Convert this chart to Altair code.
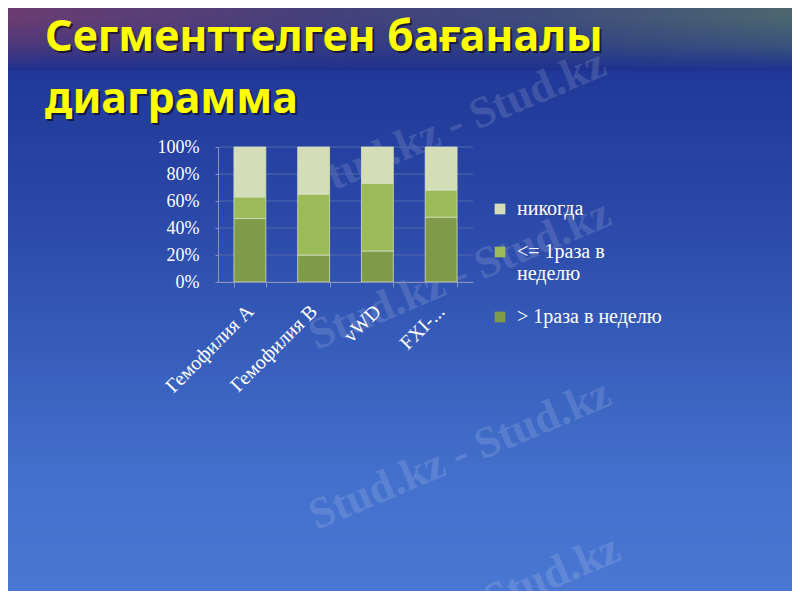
import altair as alt
import pandas as pd

# ---- data ----
categories = ["Гемофилия A", "Гемофилия B", "vWD", "FXI-..."]
series_names = ["никогда", "<= 1раза в неделю", "> 1раза в неделю"]
more_than_once = [47, 20, 23, 48]
once_or_less = [16, 45, 50, 20]
never = [37, 35, 27, 32]
y_ticks = [0, 0.2, 0.4, 0.6, 0.8, 1.0]
title_lines = ["Сегменттелген бағаналы", "диаграмма"]
watermarks = ["Stud.kz - Stud.kz", "Stud.kz - Stud.kz", "Stud.kz - Stud.kz", "Stud.kz"]

rows = []
for i, c in enumerate(categories):
    rows.append({"cat": c, "series": series_names[2], "value": more_than_once[i], "ord": 0})
    rows.append({"cat": c, "series": series_names[1], "value": once_or_less[i], "ord": 1})
    rows.append({"cat": c, "series": series_names[0], "value": never[i], "ord": 2})
df = pd.DataFrame(rows)
grid_df = pd.DataFrame({"v": y_ticks})

W, H = 255, 135
PL, PT = 210, 139
TOTAL_W, TOTAL_H = 784, 583
OX, OY = 218, 147  # page position of the plot origin
one = alt.Data(values=[{"a": 1}])

# background gradient
bg = alt.Chart(one).mark_rect(
    fill=alt.Gradient(gradient="linear", x1=0, y1=0, x2=0, y2=1,
                      stops=[alt.GradientStop(color="#1d3190", offset=0),
                             alt.GradientStop(color="#2a48a8", offset=0.35),
                             alt.GradientStop(color="#4370cc", offset=0.8),
                             alt.GradientStop(color="#4a77d2", offset=1)])
).encode(x=alt.value(-PL), x2=alt.value(TOTAL_W - PL),
         y=alt.value(-PT), y2=alt.value(TOTAL_H - PT))

topband = alt.Chart(one).mark_rect(
    fill=alt.Gradient(gradient="linear", x1=0, y1=0, x2=1, y2=0,
                      stops=[alt.GradientStop(color="#6a3c70", offset=0),
                             alt.GradientStop(color="#45407c", offset=0.4),
                             alt.GradientStop(color="#3e4a7c", offset=0.65),
                             alt.GradientStop(color="#4b6670", offset=1)])
).encode(x=alt.value(-PL), x2=alt.value(TOTAL_W - PL),
         y=alt.value(-PT), y2=alt.value(-PT + 62))

topfade = alt.Chart(one).mark_rect(
    fill=alt.Gradient(gradient="linear", x1=0, y1=0, x2=0, y2=1,
                      stops=[alt.GradientStop(color="rgba(29,49,144,0)", offset=0),
                             alt.GradientStop(color="rgba(29,49,144,0.35)", offset=0.5),
                             alt.GradientStop(color="rgba(29,49,144,1)", offset=1)])
).encode(x=alt.value(-PL), x2=alt.value(TOTAL_W - PL),
         y=alt.value(-PT + 10), y2=alt.value(-PT + 63))

layers = [bg, topband, topfade]

# watermarks
wm_pos = [(455, 125), (460, 275), (460, 455), (552, 575)]
for txt, (px, py) in zip(watermarks, wm_pos):
    layers.append(alt.Chart(one).mark_text(
        font="Liberation Serif", fontWeight="bold", fontSize=44, angle=337,
        color="white", opacity=0.13, align="center", baseline="middle"
    ).encode(x=alt.value(px - OX), y=alt.value(py - OY), text=alt.value(txt)))

# title with shadow
title_pos = [(45, 51), (45, 113)]
for txt, (px, py) in zip(title_lines, title_pos):
    layers.append(alt.Chart(one).mark_text(
        font="Noto Sans", fontWeight="bold", fontSize=43, color="#000000", opacity=0.55,
        align="left", baseline="alphabetic"
    ).encode(x=alt.value(px - OX + 2), y=alt.value(py - OY + 2), text=alt.value(txt)))
    layers.append(alt.Chart(one).mark_text(
        font="Noto Sans", fontWeight="bold", fontSize=43, color="#ffff00",
        align="left", baseline="alphabetic"
    ).encode(x=alt.value(px - OX), y=alt.value(py - OY), text=alt.value(txt)))

y_axis = alt.Axis(values=y_ticks, format=".0%", labelColor="white",
                  labelFont="Liberation Serif", labelFontSize=18, labelPadding=16,
                  labelOverlap=False, labelFlush=False,
                  tickSize=3, tickColor="#8a94b8", domainColor="#8a94b8",
                  grid=False, zindex=1)

# horizontal gridlines behind the bars
grid = alt.Chart(grid_df).mark_rule(color="#5068ad", strokeWidth=1).encode(
    y=alt.Y("v:Q", title=None, axis=y_axis), x=alt.value(0), x2=alt.value(W)
)
layers.append(grid)

bars = alt.Chart(df).mark_bar(stroke="#d6e0c0", strokeWidth=1, strokeOpacity=0.8).encode(
    x=alt.X("cat:N", sort=categories, title=None,
            scale=alt.Scale(paddingInner=0.5, paddingOuter=0.25),
            axis=alt.Axis(labelAngle=-45, labelColor="white", labelFont="Liberation Serif",
                          labelFontSize=20, labelPadding=21, tickBand="extent",
                          tickSize=5, tickColor="#8a94b8", domainColor="#8a94b8",
                          labelAlign="right", labelBaseline="middle", labelOverlap=False,
                          grid=False, zindex=1)),
    y=alt.Y("value:Q", stack="normalize", title=None, axis=y_axis),
    color=alt.Color("series:N", sort=series_names,
                    scale=alt.Scale(domain=series_names,
                                    range=["#d3deb9", "#9bbb59", "#7f9a48"]),
                    legend=alt.Legend(title=None, orient="none", legendX=272, legendY=52,
                                      symbolType="square", symbolSize=115,
                                      symbolStrokeWidth=0, labelColor="white",
                                      labelFont="Liberation Serif", labelFontSize=20,
                                      rowPadding=23, labelOffset=7, labelLimit=300,
                                      labelExpr="datum.label == '<= 1раза в неделю' ? ['<= 1раза в', 'неделю'] : datum.label")),
    order=alt.Order("ord:Q"),
)
layers.append(bars)

chart = alt.layer(*layers).properties(
    width=W, height=H,
    padding={"left": PL, "top": PT, "right": TOTAL_W - PL - W, "bottom": TOTAL_H - PT - H},
    autosize=alt.AutoSizeParams(type="none"),
).configure_view(stroke=None).configure(background="#2a48a8")

chart.save("out.html", embed_options={"renderer": "svg", "actions": False})
